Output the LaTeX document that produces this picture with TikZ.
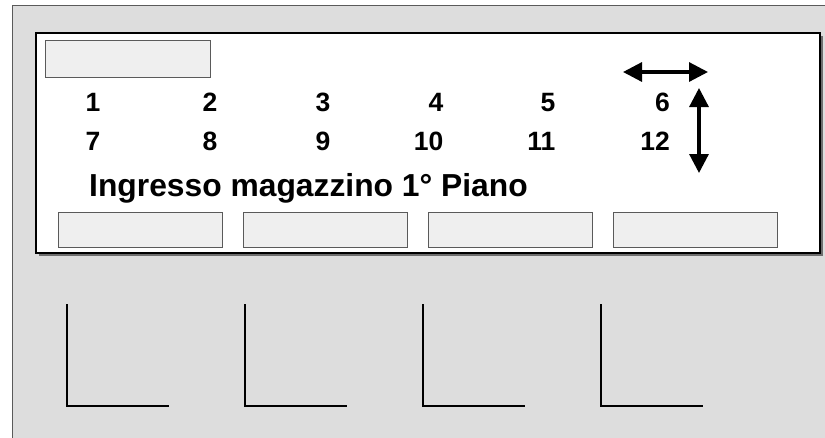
\documentclass[tikz,border=0pt]{standalone}
\usepackage{fontspec}
\setmainfont{Liberation Sans}
\usetikzlibrary{arrows.meta, positioning}
\definecolor{floorgrey}{RGB}{221,221,221}
\definecolor{slotgrey}{RGB}{239,239,239}
\definecolor{edgegrey}{RGB}{90,90,90}
\definecolor{shadowgrey}{RGB}{110,110,110}

\begin{document}
\begin{tikzpicture}[x=1pt, y=-1pt,
  slot/.style={rectangle, draw=edgegrey, fill=slotgrey, line width=0.9pt, minimum width=164pt, minimum height=35.5pt, inner sep=0pt},
  num/.style={anchor=base east, inner sep=0pt, font=\fontsize{26.5}{26}\selectfont\bfseries},
  title/.style={anchor=base west, inner sep=0pt, font=\fontsize{31.8}{32}\selectfont\bfseries},
  bay/.style={line width=1.5pt, black},
  move/.style={{Triangle[length=19pt,width=19pt]}-{Triangle[length=19pt,width=19pt]}, line width=3.2pt},
]
  \useasboundingbox (0,0) rectangle (825,437);
  % floor and entrance panel
  \fill[floorgrey] (12,5) rectangle (830,442);
  \draw[edgegrey, line width=1pt] (830,5) -- (12,5) -- (12,442);
  \fill[shadowgrey] (38.5,35.5) rectangle (822.5,255.5);
  \draw[black, fill=white, line width=1.1pt] (36,33) rectangle (820,253);

  \node[slot, minimum width=165pt, minimum height=37pt, anchor=north west] (tag) at (45,40) {};

  \node[num] (n1) at (100.5,111) {1};
  \node[num] (n2) at (217.5,111) {2};
  \node[num] (n3) at (330.5,111) {3};
  \node[num] (n4) at (443.5,111) {4};
  \node[num] (n5) at (555.5,111) {5};
  \node[num] (n6) at (670,111) {6};
  \node[num] (n7) at (100.5,150) {7};
  \node[num] (n8) at (217.5,150) {8};
  \node[num] (n9) at (330.5,150) {9};
  \node[num] (n10) at (443.5,150) {10};
  \node[num] (n11) at (555.5,150) {11};
  \node[num] (n12) at (670,150) {12};

  \node[title] (entry) at (89,196.5) {Ingresso magazzino 1° Piano};

  \node[slot, anchor=north west] (s1) at (58,211.5) {};
  \node[slot, right=20pt of s1] (s2) {};
  \node[slot, right=20pt of s2] (s3) {};
  \node[slot, right=20pt of s3] (s4) {};

  \coordinate (wl) at (623,72);
  \coordinate (wr) at (708,72);
  \coordinate (ht) at (699,88);
  \coordinate (hb) at (699,173);
  \draw[move] (wl) -- (wr);
  \draw[move] (ht) -- (hb);

  % bays
  \draw[bay] (67,304) -- (67,406) -- (169,406);
  \draw[bay] (245,304) -- (245,406) -- (347,406);
  \draw[bay] (423,304) -- (423,406) -- (525,406);
  \draw[bay] (601,304) -- (601,406) -- (703,406);
\end{tikzpicture}
\end{document}
